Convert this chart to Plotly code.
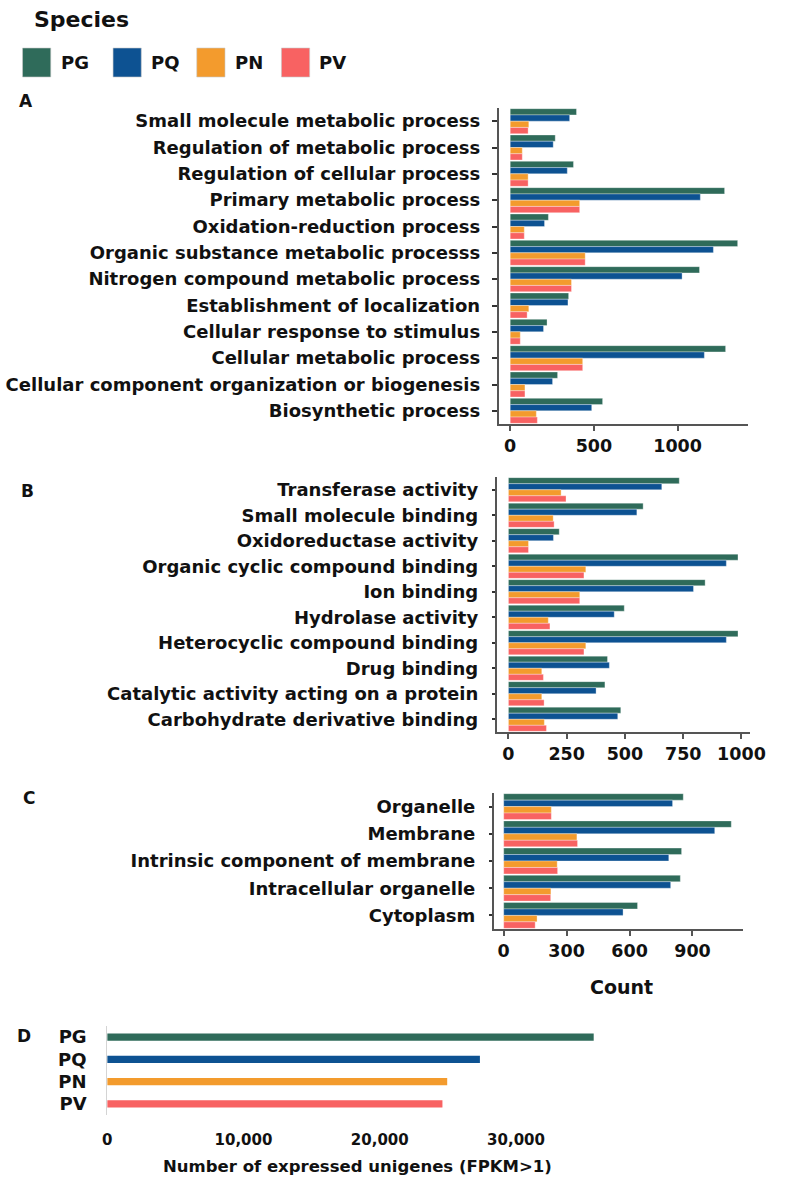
import plotly.graph_objects as go

W, H = 789, 1182

species = ["PG", "PQ", "PN", "PV"]
colors = ["#2F6B5A", "#0D5292", "#F39B2D", "#F86262"]

cat_a = ["Small molecule metabolic process", "Regulation of metabolic process",
         "Regulation of cellular process", "Primary metabolic process",
         "Oxidation-reduction process", "Organic substance metabolic processs",
         "Nitrogen compound metabolic process", "Establishment of localization",
         "Cellular response to stimulus", "Cellular metabolic process",
         "Cellular component organization or biogenesis", "Biosynthetic process"]
a_pg = [396, 269, 378, 1281, 228, 1359, 1131, 349, 220, 1287, 283, 552]
a_pq = [355, 257, 341, 1136, 205, 1214, 1027, 345, 199, 1160, 253, 487]
a_pn = [111, 72, 107, 415, 84, 448, 366, 111, 60, 433, 88, 156]
a_pv = [107, 72, 107, 415, 84, 448, 366, 101, 60, 433, 88, 162]

cat_b = ["Transferase activity", "Small molecule binding", "Oxidoreductase activity",
         "Organic cyclic compound binding", "Ion binding", "Hydrolase activity",
         "Heterocyclic compound binding", "Drug binding",
         "Catalytic activity acting on a protein", "Carbohydrate derivative binding"]
b_pg = [733, 578, 218, 985, 844, 497, 985, 425, 414, 482]
b_pq = [658, 551, 193, 935, 794, 454, 935, 433, 376, 469]
b_pn = [226, 192, 86, 332, 306, 171, 332, 143, 143, 154]
b_pv = [247, 196, 86, 324, 306, 178, 324, 150, 153, 163]

cat_c = ["Organelle", "Membrane", "Intrinsic component of membrane",
         "Intracellular organelle", "Cytoplasm"]
c_pg = [856, 1085, 848, 842, 638]
c_pq = [805, 1006, 787, 796, 569]
c_pn = [227, 349, 255, 225, 159]
c_pv = [227, 352, 257, 224, 150]

d_counts = [35700, 27350, 24950, 24600]

a_ticks = [0, 500, 1000]
b_ticks = [0, 250, 500, 750, 1000]
c_ticks = [0, 300, 600, 900]
d_ticks = [0, 10000, 20000, 30000]
d_ticktext = ["0", "10,000", "20,000", "30,000"]

FONT = "DejaVu Sans"
TXT = "#111111"


def px(x):
    return x / W


def py(y):
    return 1 - y / H


def xd(a, b):
    return [px(a), px(b)]


def yd(top, bottom):
    return [py(bottom), py(top)]


fig = go.Figure()

panels = [
    (cat_a, [a_pg, a_pq, a_pn, a_pv], "x", "y"),
    (cat_b, [b_pg, b_pq, b_pn, b_pv], "x2", "y2"),
    (cat_c, [c_pg, c_pq, c_pn, c_pv], "x3", "y3"),
]
for cats, series, xa, ya in panels:
    for name, vals, col in zip(species, series, colors):
        fig.add_trace(go.Bar(
            y=cats, x=vals, orientation="h", name=name, showlegend=False,
            marker=dict(color=col, line=dict(color="rgba(255,255,255,0.55)", width=0.6)),
            xaxis=xa, yaxis=ya, hoverinfo="x+y+name"))

fig.add_trace(go.Bar(
    y=species, x=d_counts, orientation="h", showlegend=False,
    marker=dict(color=colors, line=dict(width=0)), xaxis="x4", yaxis="y4",
    width=0.32))

cat_font = dict(family=FONT, size=18, color=TXT, weight="bold")
num_font = dict(family=FONT, size=17.5, color=TXT, weight="bold")

common_y = dict(type="category", autorange="reversed", showline=True,
                linecolor="#555555", linewidth=1.5, ticks="outside",
                tickcolor="#333333", tickwidth=2, showgrid=False,
                zeroline=False, tickfont=cat_font)
common_x = dict(showline=True, linecolor="#555555", linewidth=1.5,
                ticks="outside", ticklen=5, tickwidth=1.5, tickcolor="#555555",
                showgrid=False, zeroline=False, tickfont=num_font)

fig.update_layout(
    width=W, height=H, margin=dict(l=0, r=0, t=0, b=0),
    paper_bgcolor="white", plot_bgcolor="white",
    barmode="group", bargap=0.05, bargroupgap=0,
    font=dict(family=FONT, color=TXT),
    xaxis=dict(common_x, domain=xd(507, 763), range=[-70, 1419],
               tickvals=a_ticks, anchor="y"),
    yaxis=dict(common_y, domain=yd(108, 424), ticklen=5,
               ticklabelstandoff=8, anchor="x"),
    xaxis2=dict(common_x, domain=xd(505, 765), range=[-51, 1035],
                tickvals=b_ticks, anchor="y2"),
    yaxis2=dict(common_y, domain=yd(477, 732), ticklen=3,
                ticklabelstandoff=10, anchor="x2"),
    xaxis3=dict(common_x, domain=xd(502, 758), range=[-48, 1140],
                tickvals=c_ticks, anchor="y3"),
    yaxis3=dict(common_y, domain=yd(793, 929), ticklen=3,
                ticklabelstandoff=10, anchor="x3"),
    xaxis4=dict(domain=xd(105, 650), range=[0, 38929], showline=False,
                ticks="", showgrid=False, zeroline=False,
                tickvals=d_ticks, ticktext=d_ticktext, ticklabelstandoff=14,
                tickfont=dict(family=FONT, size=15, color=TXT, weight="bold"),
                anchor="y4"),
    yaxis4=dict(type="category", autorange="reversed", domain=yd(1026, 1115),
                showline=True, linecolor="#d4d4d4", linewidth=1, ticks="",
                showgrid=False, zeroline=False, ticklabelstandoff=16,
                tickfont=dict(family=FONT, size=18, color=TXT, weight="bold"),
                anchor="x4"),
)

# legend (drawn manually)
shapes = []
annotations = []
leg_x = [18, 111, 197, 284]
for name, col, x0 in zip(species, colors, leg_x):
    shapes.append(dict(type="rect", xref="paper", yref="paper",
                       x0=px(x0), x1=px(x0 + 29), y0=py(77), y1=py(48),
                       fillcolor=col, line=dict(color="rgba(200,200,200,0.6)", width=1)))
    annotations.append(dict(text=name, xref="paper", yref="paper",
                            x=px(x0 + 37), y=py(62.5), xanchor="left",
                            yanchor="middle", showarrow=False,
                            font=dict(family=FONT, size=18, color=TXT, weight="bold")))
annotations.append(dict(text="Species", xref="paper", yref="paper",
                        x=px(28), y=py(19), xanchor="left", yanchor="middle",
                        showarrow=False,
                        font=dict(family=FONT, size=22, color=TXT, weight="bold")))

for lab, lx, ly in [("A", 22, 101), ("B", 23, 491), ("C", 25, 798), ("D", 20, 1036)]:
    annotations.append(dict(text=lab, xref="paper", yref="paper", x=px(lx),
                            y=py(ly), xanchor="center", yanchor="middle",
                            showarrow=False,
                            font=dict(family=FONT, size=17, color=TXT, weight="bold")))

annotations.append(dict(text="Count", xref="paper", yref="paper", x=px(633),
                        y=py(987), xanchor="center", yanchor="middle",
                        showarrow=False,
                        font=dict(family=FONT, size=19, color=TXT, weight="bold")))
annotations.append(dict(text="Number of expressed unigenes (FPKM>1)", xref="paper",
                        yref="paper", x=px(362), y=py(1166), xanchor="center",
                        yanchor="middle", showarrow=False,
                        font=dict(family=FONT, size=16.5, color=TXT, weight="bold")))

fig.update_layout(shapes=shapes, annotations=annotations)

# remove the page's default 8px body margin so the figure fills the window
fig.write_html("out.html",
               config={"displayModeBar": False},
               post_script="document.body.style.margin='0';"
                           "document.body.style.overflow='hidden';")
